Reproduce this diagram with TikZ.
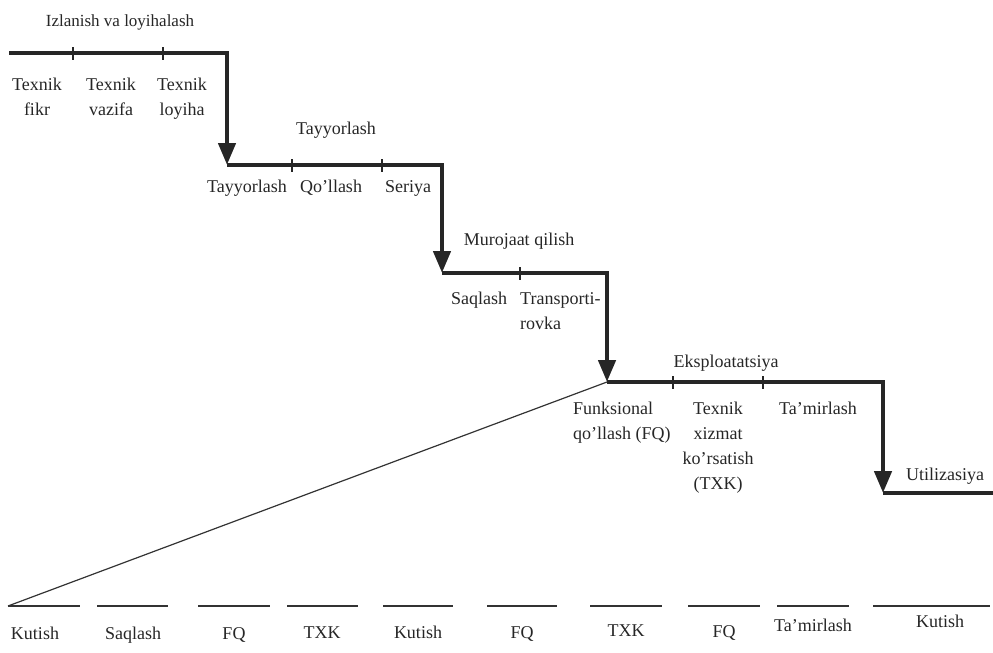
\documentclass[tikz,border=0pt]{standalone}
\usepackage{fontspec}
\setmainfont{Liberation Serif}
\usetikzlibrary{arrows.meta}

\begin{document}
\begin{tikzpicture}[x=1pt, y=-1pt,
  stair/.style = {line width=4.5pt, draw=black!85},
  stairarrow/.style = {stair, -{Triangle[length=22pt, width=17pt]}},
  notch/.style = {line width=1.6pt, draw=black!85},
  gap/.style = {line width=1.4pt, draw=black!80},
  txt/.style = {inner sep=0pt, text=black!85, font=\fontsize{18}{25}\selectfont}]
\useasboundingbox (0,0) rectangle (993,653);

% corners of the stair
\coordinate (c1) at (9,53);
\coordinate (c2) at (227,53);
\coordinate (c3) at (227,165);
\coordinate (c4) at (442,165);
\coordinate (c5) at (442,273);
\coordinate (c6) at (607,273);
\coordinate (c7) at (607,382);
\coordinate (c8) at (883,382);
\coordinate (c9) at (883,493);
\coordinate (c10) at (993,493);

\draw[stairarrow] (c1) -- (c2) -- (c3);
\draw[stairarrow] (c3) -- (c4) -- (c5);
\draw[stairarrow] (c5) -- (c6) -- (c7);
\draw[stairarrow] (c7) -- (c8) -- (c9);
\draw[stair] (c9) -- (c10);

% small marks on the steps
\foreach \x/\y in {73/53, 163/53, 292/165, 382/165, 520/273, 673/382, 763/382}
  \draw[notch] (\x,\y-6) -- (\x,\y+7);

% stage names
\node[txt, font=\fontsize{17}{22}\selectfont] (izl) at (120,22) {Izlanish va loyihalash};
\node[txt, anchor=north, align=center] (fikr) at (37,78) {Texnik\\fikr};
\node[txt, anchor=north, align=center] (vaz) at (111,78) {Texnik\\vazifa};
\node[txt, anchor=north, align=center] (loy) at (182,78) {Texnik\\loyiha};

\node[txt, anchor=north] (tay) at (336,122) {Tayyorlash};
\node[txt, anchor=north] (tay2) at (247,180) {Tayyorlash};
\node[txt, anchor=north] (qol) at (331,180) {Qo'llash};
\node[txt, anchor=north] (ser) at (408,180) {Seriya};

\node[txt, anchor=north] (mur) at (519,233) {Murojaat qilish};
\node[txt, anchor=north] (saq) at (479,292) {Saqlash};
\node[txt, anchor=north west, align=left] (tra) at (520,292) {Transporti-\\rovka};

\node[txt, anchor=north] (eks) at (726,355) {Eksploatatsiya};
\node[txt, anchor=north west, align=left] (fq) at (573,402) {Funksional\\qo'llash (FQ)};
\node[txt, anchor=north, align=center] (txk) at (718,402) {Texnik\\xizmat\\ko'rsatish\\(TXK)};
\node[txt, anchor=north] (tam) at (818,402) {Ta'mirlash};
\node[txt, anchor=north] (uti) at (945,468) {Utilizasiya};

% time line of the use stage
\foreach \a/\b/\lx/\ly/\t [count=\i] in {
    8/80/35/627/Kutish, 97/168/133/627/Saqlash, 198/270/234/627/FQ,
    287/358/322/627/TXK, 383/453/418/626/Kutish, 487/557/522/626/FQ,
    590/662/626/625/TXK, 688/760/724/625/FQ, 777/849/813/619/Ta'mirlash,
    873/990/940/615/Kutish} {
  \coordinate (g\i-l) at (\a,606);
  \coordinate (g\i-r) at (\b,606);
  \draw[gap] (g\i-l) -- (g\i-r);
  \node[txt, anchor=north] (k\i) at (\lx,\ly) {\t};
}

\draw[gap, line width=1.2pt] (g1-l) -- (c7);
\end{tikzpicture}
\end{document}
